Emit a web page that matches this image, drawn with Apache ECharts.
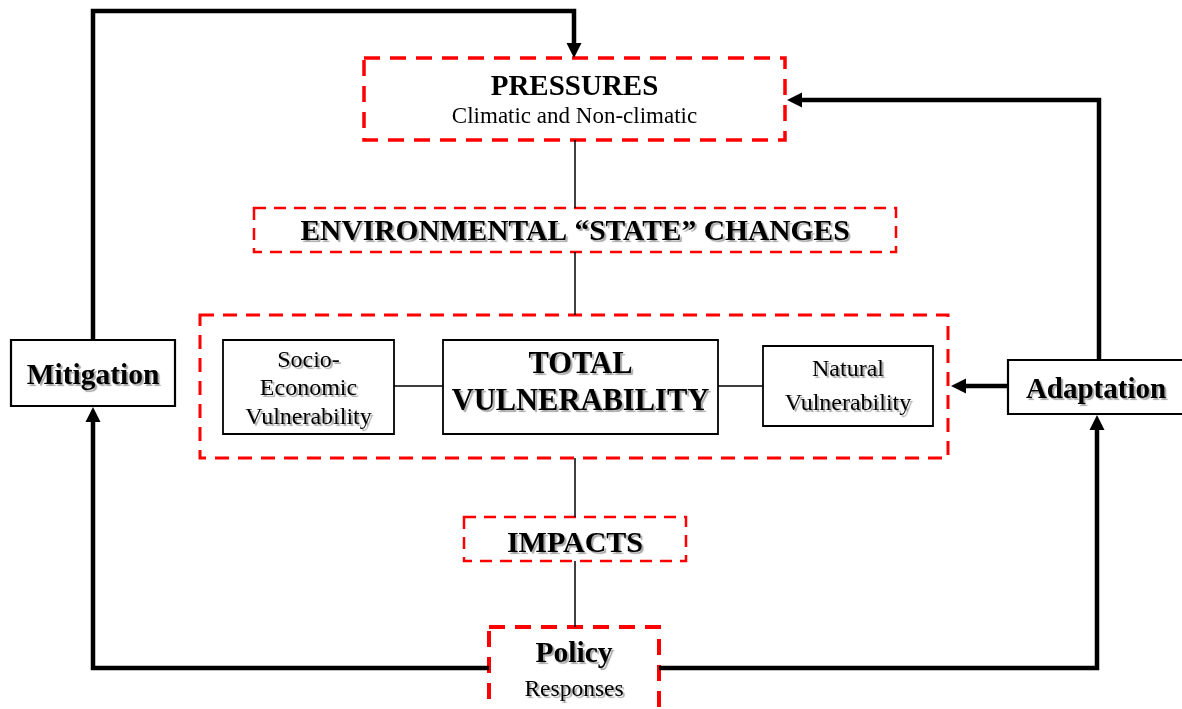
<!DOCTYPE html>
<html>
<head>
<meta charset="utf-8">
<script src="https://cdn.jsdelivr.net/npm/echarts@6/dist/echarts.min.js"></script>
<style>
  html, body { margin: 0; padding: 0; background: #fff; }
  #chart { width: 1182px; height: 709px; }
</style>
</head>
<body>
<div id="chart"></div>
<script>
// 方框文字
const boxTitles = ['', 'PRESSURES', 'ENVIRONMENTAL \u201cSTATE\u201d CHANGES', 'Socio-\nEconomic\nVulnerability',
  'TOTAL\nVULNERABILITY', 'Natural\nVulnerability', 'Mitigation', 'Adaptation', 'IMPACTS', 'Policy']
const boxSubtitles = ['', 'Climatic and Non-climatic', '', '', '', '', '', '', '', 'Responses']
// 方框四角（图内坐标）[x0, y0, x1, y1]
const boxCorners = [
  [200, 315, 948, 458],
  [364, 58, 785, 140],
  [254, 208, 896, 252],
  [223, 340, 394, 434],
  [443, 340, 718, 434],
  [763, 346, 933, 426],
  [11, 340, 175, 406],
  [1008, 360, 1186, 414],
  [464, 517, 686, 561],
  [489, 627, 659, 714]
]
// 连线（图内坐标点）
const linkPaths = [
  [[93, 340], [93, 11], [574, 11], [574, 58]],
  [[1099, 360], [1099, 100], [787, 100]],
  [[1008, 386], [951, 386]],
  [[489, 668], [93, 668], [93, 407]],
  [[659, 668], [1097, 668], [1097, 415]],
  [[575, 140], [575, 208]],
  [[575, 252], [575, 315]],
  [[575, 458], [575, 517]],
  [[575, 561], [575, 627]],
  [[394, 386], [443, 386]],
  [[718, 386], [763, 386]]
]
const linkArrows = [true, true, true, true, true, false, false, false, false, false, false]

// 样式
const FONT = '"Liberation Serif", "Times New Roman", serif'
const borderLooks = [
  { stroke: '#ff0000', width: 3, dash: [14, 9] },
  { stroke: '#ff0000', width: 3.5, dash: [16, 10] },
  { stroke: '#ff0000', width: 2.5, dash: [12, 8] },
  { stroke: '#000', width: 1.8, dash: null },
  { stroke: '#000', width: 1.8, dash: null },
  { stroke: '#000', width: 1.8, dash: null },
  { stroke: '#000', width: 2.2, dash: null },
  { stroke: '#000', width: 2.2, dash: null },
  { stroke: '#ff0000', width: 2.5, dash: [12, 8] },
  { stroke: '#ff0000', width: 4, dash: [16, 10] }
]
// [字号, 粗细, 行高, 阴影]
const titleLooks = [
  null,
  [29, 'bold', 30, false],
  [29.5, 'bold', 30, true],
  [24, 'normal', 28.5, true],
  [30.5, 'bold', 37, true],
  [24, 'normal', 34, true],
  [29.5, 'bold', 30, true],
  [29, 'bold', 30, true],
  [30, 'bold', 30, true],
  [29.5, 'bold', 34, true]
]
const subLooks = [null, [23, 'normal', 28, false], null, null, null, null, null, null, null, [23.5, 'normal', 36, true]]
const textDy = [0, 3, 2, 2, -3, 1, 3, 4, 5, 2]

const richOf = function (look) {
  let r = {
    fontSize: look[0],
    fontWeight: look[1],
    lineHeight: look[2],
    fontFamily: FONT,
    fill: '#000',
    align: 'center'
  }
  if (look[3]) {
    r.textShadowColor = 'rgba(0,0,0,0.35)'
    r.textShadowOffsetX = 2
    r.textShadowOffsetY = 2
    r.textShadowBlur = 1
  }
  return r
}

const renderBox = function (params, api) {
  let i = params.dataIndex
  let p0 = api.coord([api.value(0), api.value(1)])
  let p1 = api.coord([api.value(2), api.value(3)])
  let b = borderLooks[i]
  let children = [{
    type: 'rect',
    shape: { x: p0[0], y: p0[1], width: p1[0] - p0[0], height: p1[1] - p0[1] },
    style: { fill: '#fff', stroke: b.stroke, lineWidth: b.width, lineDash: b.dash }
  }]
  if (boxTitles[i]) {
    let parts = boxTitles[i].split('\n').map(s => '{t|' + s + '}')
    if (boxSubtitles[i]) parts.push('{s|' + boxSubtitles[i] + '}')
    let rich = { t: richOf(titleLooks[i]) }
    if (subLooks[i]) rich.s = richOf(subLooks[i])
    children.push({
      type: 'text',
      style: {
        text: parts.join('\n'),
        x: (p0[0] + p1[0]) / 2 - (i === 7 ? 1 : 0),
        y: (p0[1] + p1[1]) / 2 + textDy[i],
        align: 'center',
        verticalAlign: 'middle',
        rich: rich
      }
    })
  }
  return { type: 'group', children: children }
}

const renderLink = function (params, api) {
  let i = params.dataIndex
  let pts = linkPaths[i].map(p => api.coord(p))
  let thick = linkArrows[i]
  let children = []
  let linePts = pts.slice()
  let head = 15
  if (thick) {
    // 箭头：尖端落在终点
    let a = pts[pts.length - 2]
    let e = pts[pts.length - 1]
    let dx = e[0] - a[0]
    let dy = e[1] - a[1]
    let len = Math.sqrt(dx * dx + dy * dy)
    let ux = dx / len
    let uy = dy / len
    let bx = e[0] - ux * head
    let by = e[1] - uy * head
    linePts[linePts.length - 1] = [bx + ux * 2, by + uy * 2]
    children.push({
      type: 'polygon',
      shape: { points: [e, [bx - uy * 7.5, by + ux * 7.5], [bx + uy * 7.5, by - ux * 7.5]] },
      style: { fill: '#000' }
    })
  }
  children.unshift({
    type: 'polyline',
    shape: { points: linePts },
    style: { fill: null, stroke: '#000', lineWidth: thick ? 4.5 : 1.5, lineJoin: 'miter' }
  })
  return { type: 'group', children: children }
}

let myChart = echarts.init(document.getElementById('chart'))
let option = {
  backgroundColor: '#fff',
  animation: false,
  grid: { left: 0, right: 0, top: 0, bottom: 0 },
  xAxis: { type: 'value', min: 0, max: 1182, show: false },
  yAxis: { type: 'value', min: 0, max: 709, inverse: true, show: false },
  series: [
    {
      type: 'custom',
      clip: false,
      renderItem: renderBox,
      encode: { x: [0, 2], y: [1, 3] },
      data: boxCorners,
      z: 2
    },
    {
      type: 'custom',
      clip: false,
      renderItem: renderLink,
      encode: { x: 0, y: 1 },
      data: linkPaths.map(p => p[0]),
      z: 3
    }
  ]
}
myChart.setOption(option)
</script>
</body>
</html>
